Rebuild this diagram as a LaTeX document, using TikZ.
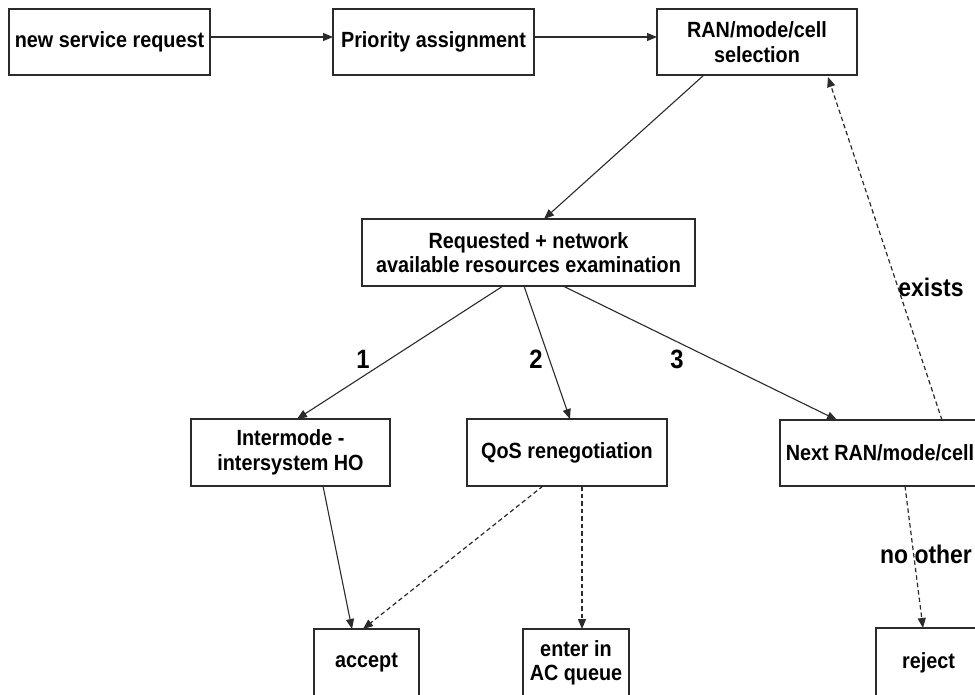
\documentclass[tikz,border=0pt]{standalone}
\usepackage{fontspec}
\setmainfont{Liberation Sans}[FakeStretch=0.9]
\usetikzlibrary{arrows.meta}
\definecolor{ink}{HTML}{2B2B2B}
\begin{document}
\begin{tikzpicture}[x=1pt,y=-1pt,
  box/.style={draw=ink,line width=1.1pt,rectangle,inner sep=0pt,outer sep=0pt,
    align=center,font=\fontsize{22}{24.5}\selectfont\bfseries},
  link/.style={draw=ink,line width=1.1pt,-{Triangle[length=10pt,width=8pt]}},
  dlink/.style={link,line width=1.2pt,dash pattern=on 4.5pt off 3pt},
  lbl/.style={inner sep=0pt,font=\fontsize{25.5}{28}\selectfont\bfseries},
  num/.style={inner sep=0pt,font=\fontsize{26.5}{30}\selectfont\bfseries}]
\useasboundingbox (0,0) rectangle (975,695);
\clip (0,0) rectangle (975,695);
\fill[white] (0,0) rectangle (975,695);

% boxes
\node[box,minimum width=201pt,minimum height=66pt] (req0) at (109.5,42) {new service request};
\node[box,minimum width=201pt,minimum height=66pt] (prio) at (433.5,42) {Priority assignment};
\node[box,minimum width=200pt,minimum height=66pt] (sel) at (757,42) {RAN/mode/cell\\selection};
\node[box,minimum width=333pt,minimum height=67pt] (exam) at (528.5,252.5) {Requested + network\\available resources examination};
\node[box,minimum width=199pt,minimum height=67pt] (ho) at (290.5,452.5) {Intermode -\\intersystem HO};
\node[box,minimum width=200pt,minimum height=67pt] (qos) at (567,452.5) {QoS renegotiation};
\node[box,minimum width=200pt,minimum height=66pt] (next) at (880,453) {Next RAN/mode/cell};
\node[box,minimum width=105pt,minimum height=68pt] (acc) at (366.5,663) {accept};
\node[box,minimum width=106pt,minimum height=68pt] (queue) at (576,663) {enter in\\AC queue};
\node[box,minimum width=105pt,minimum height=69pt] (rej) at (928.5,662.5) {reject};

% solid connectors
\draw[link] ([yshift=5pt]req0.east) -- ([yshift=5pt]prio.west);
\draw[link] ([yshift=5pt]prio.east) -- ([yshift=5pt]sel.west);
\draw[link] ([xshift=47pt]sel.south west) -- ([xshift=182pt]exam.north west);
\draw[link] ([xshift=141pt]exam.south west) -- ([xshift=106pt]ho.north west);
\draw[link] ([xshift=162pt]exam.south west) -- ([xshift=103pt]qos.north west);
\draw[link] ([xshift=201pt]exam.south west) -- ([xshift=57pt]next.north west);
\draw[link] ([xshift=132pt]ho.south west) -- ([xshift=38pt]acc.north west);

% dashed connectors
\draw[dlink] ([xshift=76pt]qos.south west) -- ([xshift=49pt]acc.north west);
\draw[dlink] ([xshift=115pt]qos.south west) -- ([xshift=59pt]queue.north west);
\draw[dlink] ([xshift=162pt]next.north west) -- ([xshift=171pt,yshift=-2pt]sel.south west);
\draw[dlink] ([xshift=125pt]next.south west) -- ([xshift=47pt]rej.north west);

% branch labels
\node[num] (n1) at (363,359) {1};
\node[num] (n2) at (536,359) {2};
\node[num] (n3) at (677,359) {3};
\node[lbl] (ex) at (931,287) {exists};
\node[lbl] (no) at (926,554) {no other};
\end{tikzpicture}
\end{document}
